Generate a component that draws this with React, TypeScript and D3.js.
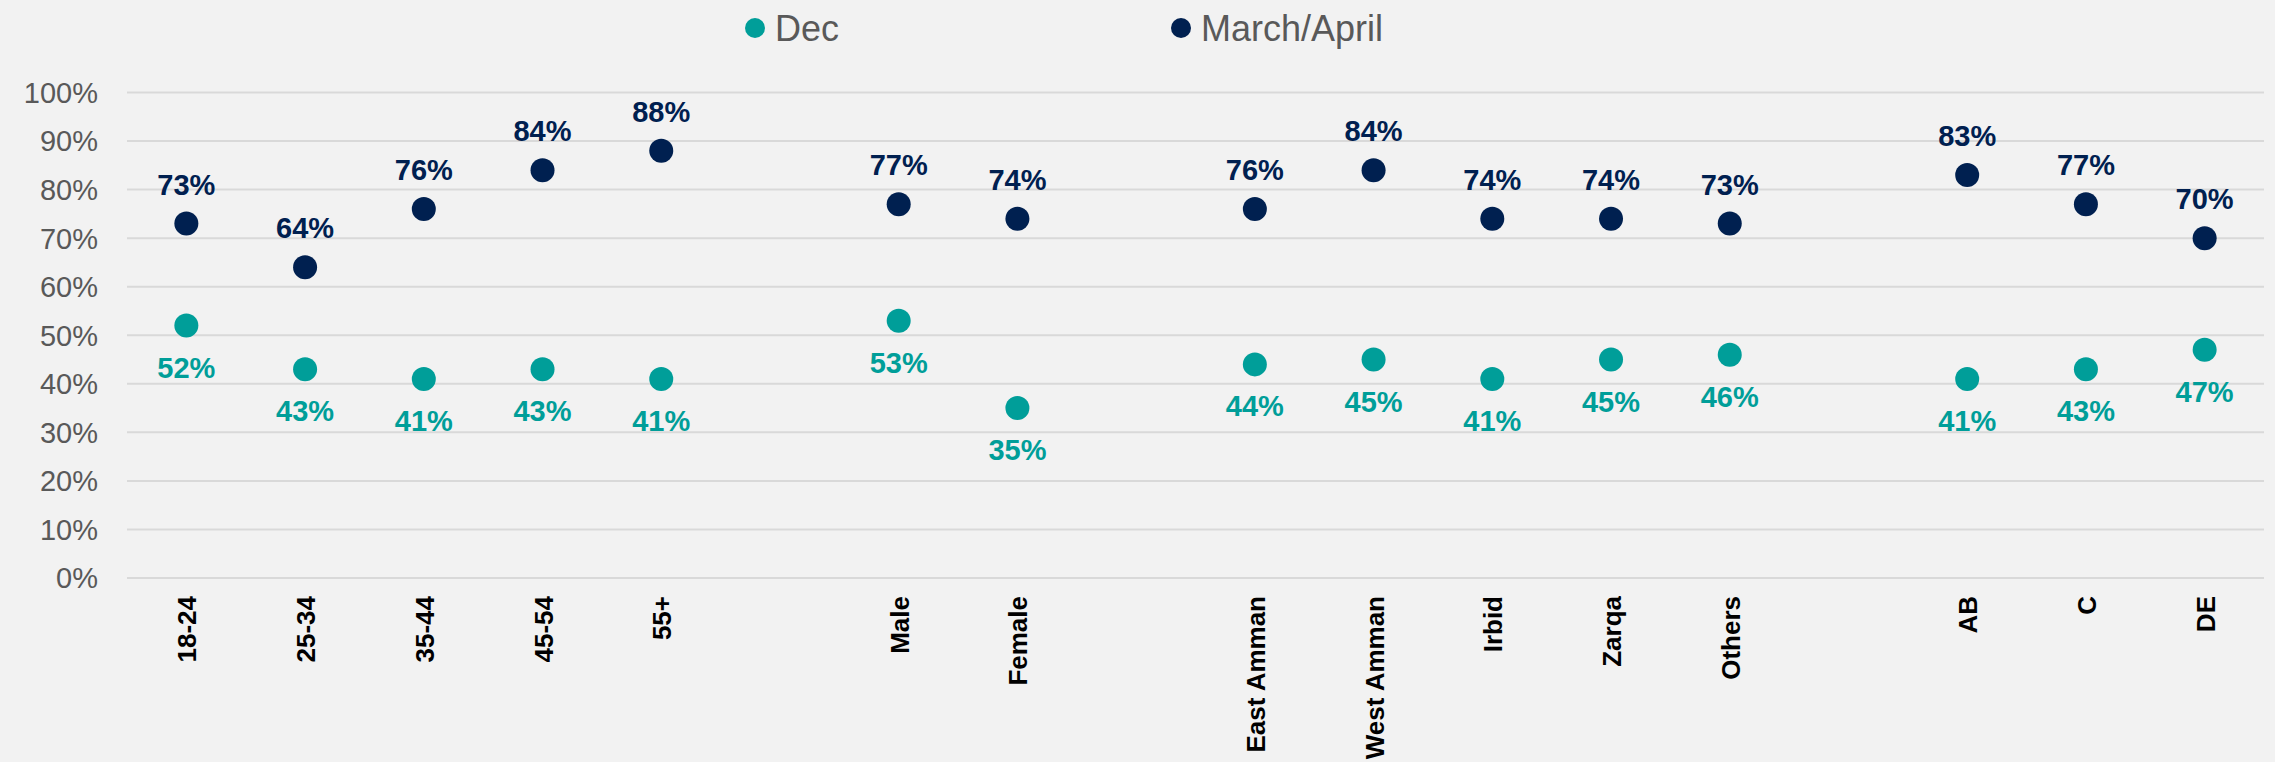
import React from "react";
import * as d3 from "d3";

const categories = ["18-24", "25-34", "35-44", "45-54", "55+", "", "Male", "Female", "", "East Amman", "West Amman", "Irbid", "Zarqa", "Others", "", "AB", "C", "DE"];
const decValues: (number | null)[] = [52, 43, 41, 43, 41, null, 53, 35, null, 44, 45, 41, 45, 46, null, 41, 43, 47];
const marchValues: (number | null)[] = [73, 64, 76, 84, 88, null, 77, 74, null, 76, 84, 74, 74, 73, null, 83, 77, 70];
const yTicks = [0, 10, 20, 30, 40, 50, 60, 70, 80, 90, 100];
const seriesNames = ["Dec", "March/April"];

const W = 2275;
const H = 762;
const DEC = "#009E99";
const MAR = "#002050";

export default function App() {
  const x = d3.scaleBand<number>().domain(categories.map((_, i) => i)).range([127, 2264]);
  const y = d3.scaleLinear().domain([0, 100]).range([578, 92.5]);
  const cx = (i: number) => (x(i) as number) + x.bandwidth() / 2;

  return (
    <div style={{ position: "absolute", left: 0, top: 0 }}>
      <svg width={W} height={H} style={{ display: "block", fontFamily: "'Liberation Sans', Arial, sans-serif" }}>
        <rect width={W} height={H} fill="#F2F2F2" />
        {yTicks.map((t) => (
          <g key={t}>
            <line x1={127} x2={2264} y1={y(t)} y2={y(t)} stroke="#D9D9D9" strokeWidth={2} />
            <text x={98} y={y(t)} dy="0.36em" textAnchor="end" fontSize={29} fill="#595959">{t}%</text>
          </g>
        ))}
        {categories.map((c, i) =>
          c ? (
            <text key={i} transform={`translate(${cx(i) + 10},596) rotate(-90)`} textAnchor="end" fontSize={26} fontWeight="bold" fill="#000">{c}</text>
          ) : null
        )}
        {decValues.map((v, i) =>
          v == null ? null : (
            <g key={"d" + i}>
              <circle cx={cx(i)} cy={y(v)} r={12} fill={DEC} />
              <text x={cx(i)} y={y(v) + 52} textAnchor="middle" fontSize={29} fontWeight="bold" fill={DEC}>{v}%</text>
            </g>
          )
        )}
        {marchValues.map((v, i) =>
          v == null ? null : (
            <g key={"m" + i}>
              <circle cx={cx(i)} cy={y(v)} r={12} fill={MAR} />
              <text x={cx(i)} y={y(v) - 29} textAnchor="middle" fontSize={29} fontWeight="bold" fill={MAR}>{v}%</text>
            </g>
          )
        )}
        {seriesNames.map((s, k) => {
          const lx = k === 0 ? 755 : 1181;
          return (
            <g key={s}>
              <circle cx={lx} cy={28} r={10} fill={k === 0 ? DEC : MAR} />
              <text x={lx + 20} y={28} dy="0.36em" fontSize={36} fill="#595959">{s}</text>
            </g>
          );
        })}
      </svg>
    </div>
  );
}
